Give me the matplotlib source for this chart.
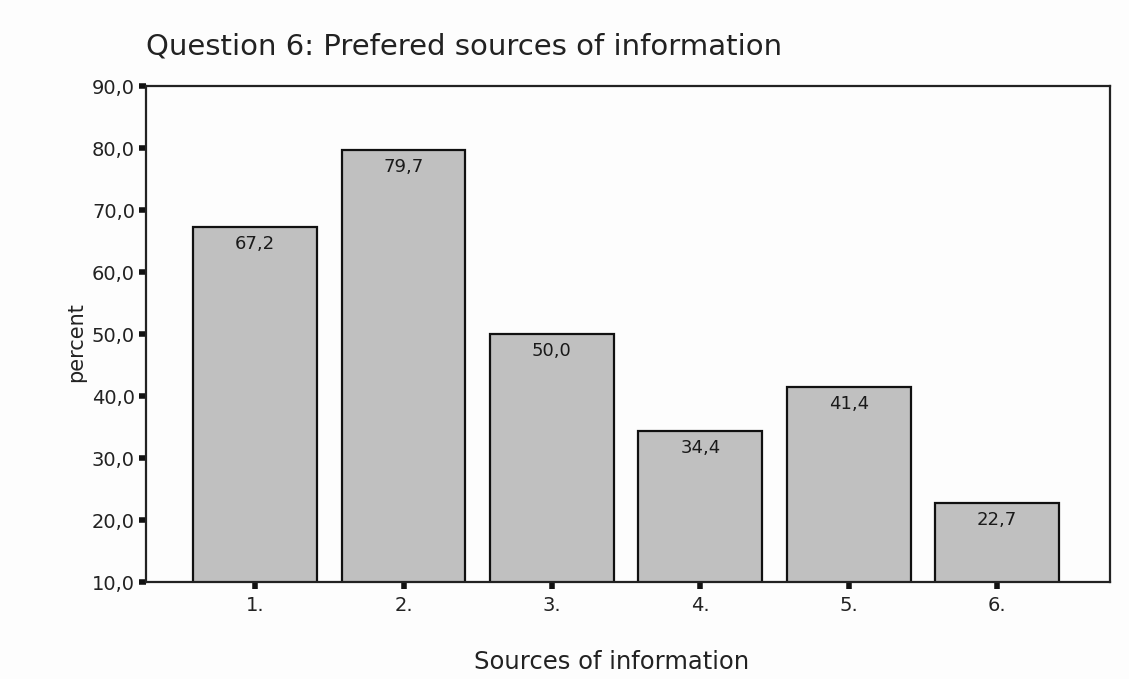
import matplotlib
matplotlib.use("Agg")
import matplotlib.pyplot as plt

categories = ["1.", "2.", "3.", "4.", "5.", "6."]
percent = [67.2, 79.7, 50.0, 34.4, 41.4, 22.7]
yticks = [10, 20, 30, 40, 50, 60, 70, 80, 90]

plt.rcParams["font.family"] = ["DejaVu Sans"]

fig = plt.figure(figsize=(11.29, 6.79), dpi=100)
fig.patch.set_facecolor("#fdfdfd")
ax = fig.add_axes([146 / 1129, 1 - 582 / 679, (1110 - 146) / 1129, (582 - 86) / 679])
ax.set_facecolor("#fdfdfd")

x = list(range(1, len(categories) + 1))
ax.bar(x, percent, width=0.835, color="#c0c0c0", edgecolor="#111111", linewidth=1.6)

for xi, v in zip(x, percent):
    ax.text(xi, v - 1.3, f"{v:.1f}".replace(".", ","), ha="center", va="top",
            fontsize=13, color="#1a1a1a")

ax.set_xlim(0.265, 6.76)
ax.set_ylim(10, 90)
ax.set_yticks(yticks)
ax.set_yticklabels([f"{t:.1f}".replace(".", ",") for t in yticks], fontsize=14)
ax.set_xticks(x)
ax.set_xticklabels(categories, fontsize=14)
ax.tick_params(axis="both", direction="out", length=5, width=4, color="#111111",
               labelcolor="#222222")
ax.tick_params(axis="y", pad=3)
ax.tick_params(axis="x", pad=5)
for sp in ax.spines.values():
    sp.set_linewidth(1.6)
    sp.set_color("#222222")

fig.text(146 / 1129, 1 - 46 / 679, "Question 6: Prefered sources of information",
         fontsize=21, ha="left", va="center", color="#222222")
fig.text(612 / 1129, 1 - 662 / 679, "Sources of information", fontsize=17.5,
         ha="center", va="center", color="#222222")
fig.text(76 / 1129, 1 - 342 / 679, "percent", fontsize=15, rotation=90,
         ha="center", va="center", color="#222222")

fig.savefig("out.png", dpi=100, facecolor=fig.get_facecolor())
